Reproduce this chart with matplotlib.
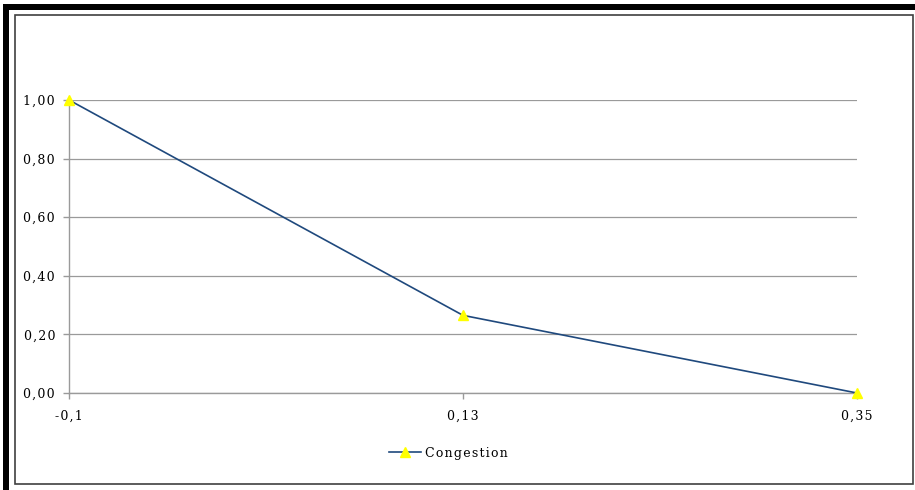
import matplotlib
matplotlib.use('Agg')
import matplotlib.pyplot as plt
from matplotlib.patches import Rectangle

# data
categories = ['-0,1', '0,13', '0,35']
congestion = [1.00, 0.265, 0.00]
ytick_vals = [0.0, 0.2, 0.4, 0.6, 0.8, 1.0]
ytick_labels = ['0,00', '0,20', '0,40', '0,60', '0,80', '1,00']
series_name = 'Congestion'

W, H = 915, 490
fig = plt.figure(figsize=(W / 100, H / 100), dpi=100)
fig.patch.set_facecolor('white')

def px(x0, y0, x1, y1):
    # pixel box (top-left origin) -> figure fraction rectangle
    return [x0 / W, 1 - y1 / H, (x1 - x0) / W, (y1 - y0) / H]

def spaced(s):
    # the original labels are drawn with loose letter spacing
    return '\u200a'.join(s)

# thick black frame of the page (left and top)
fig.patches.append(Rectangle((3 / W, 0), 6 / W, 1 - 4 / H, transform=fig.transFigure,
                             facecolor='black', edgecolor='none'))
fig.patches.append(Rectangle((3 / W, 1 - 10 / H), 1, 6 / H, transform=fig.transFigure,
                             facecolor='black', edgecolor='none'))
# chart area border
fig.patches.append(Rectangle((15 / W, 1 - 484 / H), (913 - 15) / W, (484 - 15) / H,
                             transform=fig.transFigure, facecolor='none',
                             edgecolor='#404040', linewidth=1.2))

ax = fig.add_axes(px(69, 100, 857, 393))
x = list(range(len(categories)))
ax.plot(x, congestion, color='#1F497D', linewidth=1.2, marker='^',
        markersize=6.5, markerfacecolor='#FFFF00', markeredgecolor='#FFFF00',
        label=spaced(series_name), clip_on=False, zorder=3)

ax.set_xlim(0, len(categories) - 1)
ax.set_ylim(0, 1.0)
ax.set_xticks(x)
ax.set_xticklabels([spaced(c) for c in categories])
ax.set_yticks(ytick_vals)
ax.set_yticklabels([spaced(t) for t in ytick_labels])
ax.grid(axis='y', color='#9a9a9a', linewidth=0.9)
ax.set_axisbelow(True)

for side in ['top', 'right']:
    ax.spines[side].set_visible(False)
for side in ['left', 'bottom']:
    ax.spines[side].set_color('#9a9a9a')
    ax.spines[side].set_linewidth(1.0)

ax.tick_params(axis='both', colors='#9a9a9a', length=4, width=1, direction='out')
ax.tick_params(axis='y', pad=6, labelcolor='black')
ax.tick_params(axis='x', pad=8, labelcolor='black')
for lab in ax.get_xticklabels() + ax.get_yticklabels():
    lab.set_family('DejaVu Serif')
    lab.set_fontsize(9)

leg = ax.legend(loc='center', bbox_to_anchor=(0.481, -0.205), frameon=False,
                prop={'family': 'DejaVu Serif', 'size': 9},
                handlelength=2.6, handletextpad=0.3)

fig.savefig('out.png', dpi=100)
